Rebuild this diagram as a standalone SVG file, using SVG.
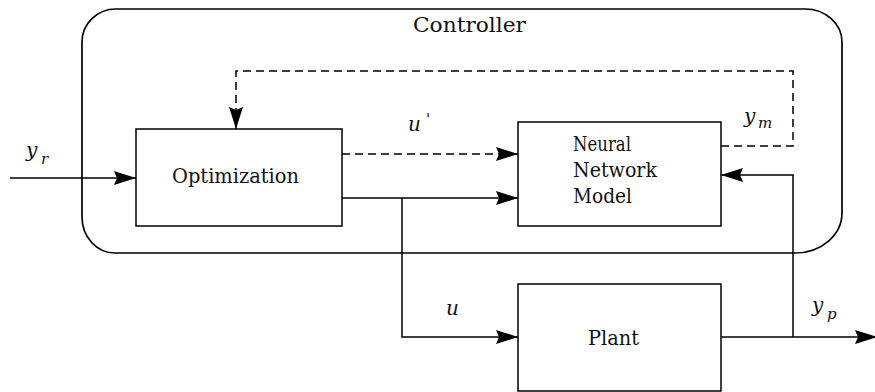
<svg xmlns="http://www.w3.org/2000/svg" width="875" height="392" viewBox="0 0 875 392">
  <style>
    .frame { fill: none; stroke: #000; stroke-width: 1.7; }
    .box { fill: #fff; stroke: #000; stroke-width: 1.5; }
    .wire { fill: none; stroke: #000; stroke-width: 1.5; }
    .dash { stroke-dasharray: 8 5; }
    .lbl { font-family: "DejaVu Serif", "Liberation Serif", serif; font-size: 20px; fill: #111; }
    .math { font-family: "DejaVu Serif", "Liberation Serif", serif; font-style: italic; font-size: 20px; fill: #111; }
    .sub { font-family: "DejaVu Serif", "Liberation Serif", serif; font-style: italic; font-size: 15px; fill: #111; }
  </style>
  <defs>
    <marker id="arrow" markerUnits="userSpaceOnUse" markerWidth="24" markerHeight="18" viewBox="0 -9 24 18" refX="22" refY="0" orient="auto">
      <path d="M0,-7 L22,0 L0,7 L3,0 Z" fill="#000"/>
    </marker>
  </defs>
  <rect width="875" height="392" fill="#fff"/>

  <!-- Controller boundary -->
  <g id="controller">
    <path class="frame" d="M116,9 L805,9 A37,33 0 0 1 842,42 L842,213 A47,40 0 0 1 795,253 L115,253 A33,36 0 0 1 82,217 L82,42 A34,33 0 0 1 116,9 Z"/>
    <text class="lbl" x="413" y="32" textLength="113" lengthAdjust="spacingAndGlyphs">Controller</text>
  </g>

  <!-- Connectors -->
  <g id="connectors">
    <!-- reference input -->
    <line class="wire" x1="10" y1="178" x2="136" y2="178" marker-end="url(#arrow)"/>
    <!-- predicted control u' -->
    <line class="wire dash" x1="342" y1="154" x2="518" y2="154" marker-end="url(#arrow)"/>
    <!-- model output y_m back to optimizer -->
    <path class="wire dash" d="M721,146 L793,146 L793,71 L236,71 L236,129" marker-end="url(#arrow)"/>
    <!-- control u to model -->
    <line class="wire" x1="342" y1="198" x2="518" y2="198" marker-end="url(#arrow)"/>
    <!-- control u to plant -->
    <path class="wire" d="M402,198 L402,337 L518,337" marker-end="url(#arrow)"/>
    <!-- plant output -->
    <line class="wire" x1="721" y1="337" x2="877" y2="337" marker-end="url(#arrow)"/>
    <!-- plant output back to model -->
    <path class="wire" d="M793,337 L793,175 L721,175" marker-end="url(#arrow)"/>
  </g>

  <g id="optimization">
    <rect class="box" x="136" y="129" width="206" height="97"/>
    <text class="lbl" x="172" y="183" textLength="127" lengthAdjust="spacingAndGlyphs">Optimization</text>
  </g>

  <g id="nn-model">
    <rect class="box" x="518" y="122" width="203" height="104"/>
    <text class="lbl" x="573" y="151" textLength="58" lengthAdjust="spacingAndGlyphs">Neural</text>
    <text class="lbl" x="573" y="177" textLength="84" lengthAdjust="spacingAndGlyphs">Network</text>
    <text class="lbl" x="573" y="203" textLength="59" lengthAdjust="spacingAndGlyphs">Model</text>
  </g>

  <g id="plant">
    <rect class="box" x="518" y="284" width="203" height="107"/>
    <text class="lbl" x="588" y="345" textLength="51" lengthAdjust="spacingAndGlyphs">Plant</text>
  </g>

  <!-- signal labels -->
  <g id="labels">
    <text class="math" x="26" y="157">y</text><text class="sub" x="41" y="164">r</text>
    <text class="math" x="408" y="131">u</text><text class="sub" x="426" y="124">'</text>
    <text class="math" x="744" y="123">y</text><text class="sub" x="758" y="128">m</text>
    <text class="math" x="446" y="315">u</text>
    <text class="math" x="812" y="312">y</text><text class="sub" x="827" y="319">p</text>
  </g>
</svg>
